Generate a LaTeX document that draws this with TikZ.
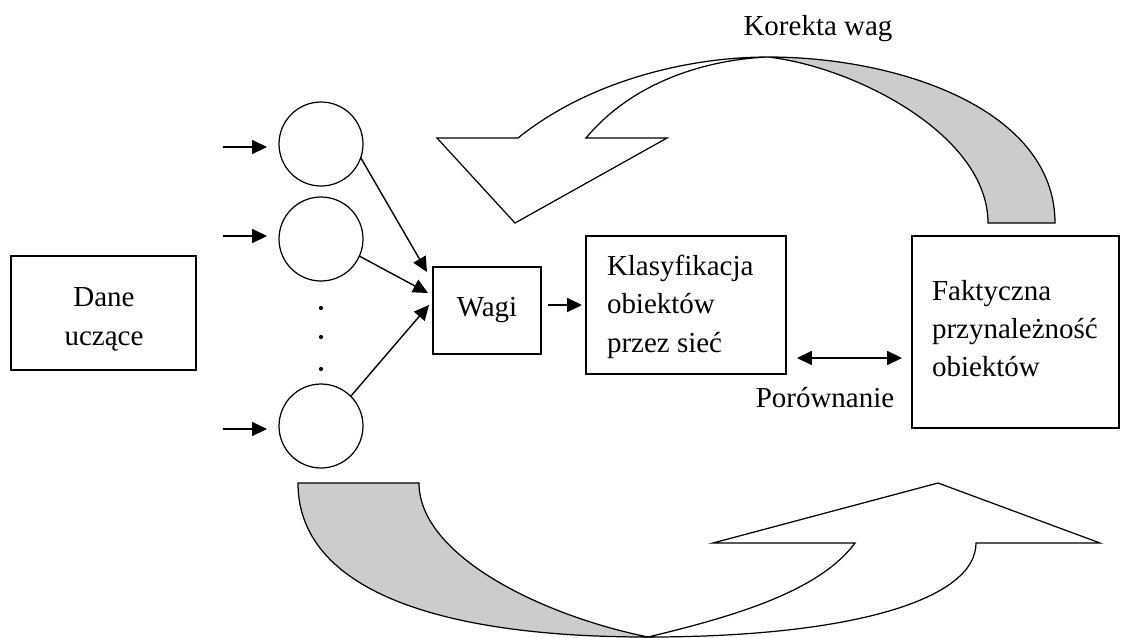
\documentclass[tikz,border=0pt]{standalone}
\usepackage{fontspec}
\setmainfont{Liberation Serif}
\usetikzlibrary{arrows.meta,calc}
\definecolor{bandgray}{RGB}{204,204,204}
\begin{document}
\begin{tikzpicture}[x=0.02cm,y=-0.02cm,
  every node/.style={font=\fontsize{16.5}{21.8}\selectfont, inner sep=0pt, outer sep=0pt},
  boxst/.style={draw, line width=0.7pt, rectangle},
  neuron/.style={draw, circle, line width=0.7pt, minimum size=1.68cm},
  arr/.style={line width=0.8pt, -{Triangle[length=8.5pt,width=8pt]}},
  dbl/.style={line width=0.8pt, {Triangle[length=8.5pt,width=8pt]}-{Triangle[length=8.5pt,width=8pt]}},
  band/.style={draw, line width=0.7pt, fill=bandgray, line join=miter},
  head/.style={draw, line width=0.7pt, fill=white, line join=miter},
  lbl/.style={}
]
\useasboundingbox (0,0) rectangle (1122,637);
\fill[white] (0,0) rectangle (1122,637);

% curved arrows
\begin{scope}
\clip (0,0) rectangle (1122,637);
\draw[band] (988,223) .. controls (988,135) and (855,67) .. (768,57)
  .. controls (900,57) and (1055,110) .. (1055,223) -- cycle;
\draw[head] (518,138) .. controls (590,80) and (690,57) .. (768,57)
  .. controls (700,60) and (630,85) .. (586,138) -- (667,138) -- (515,223) -- (437,138) -- cycle;
\draw[band] (298,483) -- (419,483) .. controls (419,555) and (540,615) .. (648,637)
  .. controls (420,637) and (298,582) .. (298,483) -- cycle;
\draw[head] (648,637) .. controls (850,637) and (976,600) .. (976,543) -- (1100,543)
  -- (938,483) -- (713,543) -- (855,543) .. controls (820,590) and (740,615) .. (648,637) -- cycle;
\end{scope}

% boxes
\node[boxst, minimum width=3.7cm, minimum height=2.28cm] (dane) at (103.5,313) {};
\node[lbl, align=center] (daneT) at (104,319.5) {Dane\\uczące};
\node[boxst, minimum width=2.16cm, minimum height=1.74cm] (wagi) at (487,310.5) {Wagi};
\node[boxst, minimum width=4cm, minimum height=2.76cm] (klas) at (686,305) {};
\node[lbl, align=left, anchor=west] (klasT) at (607,306.7) {Klasyfikacja\\obiektów\\przez sieć};
\node[boxst, minimum width=4.14cm, minimum height=3.84cm] (fakt) at (1015.5,332) {};
\node[lbl, align=left, anchor=west] (faktT) at (932,328.5) {Faktyczna\\przynależność\\obiektów};
\node[lbl, anchor=base] (por) at (825,407) {Porównanie};
\node[lbl, anchor=base] (kor) at (818,35) {Korekta wag};

% neurons
\node[neuron] (n1) at (321,144) {};
\node[neuron] (n2) at (321,239) {};
\node[neuron] (n3) at (321,426) {};
\fill (321,308) circle (1.2pt);
\fill (321,337) circle (1.2pt);
\fill (321,369) circle (1.2pt);

% inputs
\coordinate (in1) at (223,147);
\coordinate (in2) at (223,236);
\coordinate (in3) at (223,429);
\draw[arr, shorten >=0.24cm] (in1) -- (in1 -| n1.west);
\draw[arr, shorten >=0.24cm] (in2) -- (in2 -| n2.west);
\draw[arr, shorten >=0.24cm] (in3) -- (in3 -| n3.west);

% to weights
\coordinate (w1) at (427,272);
\coordinate (w2) at (428,293);
\coordinate (w3) at (429,305);
\draw[arr] (n1.-19) -- (w1);
\draw[arr] (n2.-24) -- (w2);
\draw[arr] (n3.45) -- (w3);

\draw[arr, shorten <=0.14cm, shorten >=0.08cm] (wagi.east |- klas.west) -- (klas.west);
\coordinate (cmp) at (850,358);
\draw[dbl, shorten <=0.22cm, shorten >=0.2cm] (klas.east |- cmp) -- (fakt.west |- cmp);
\end{tikzpicture}
\end{document}
